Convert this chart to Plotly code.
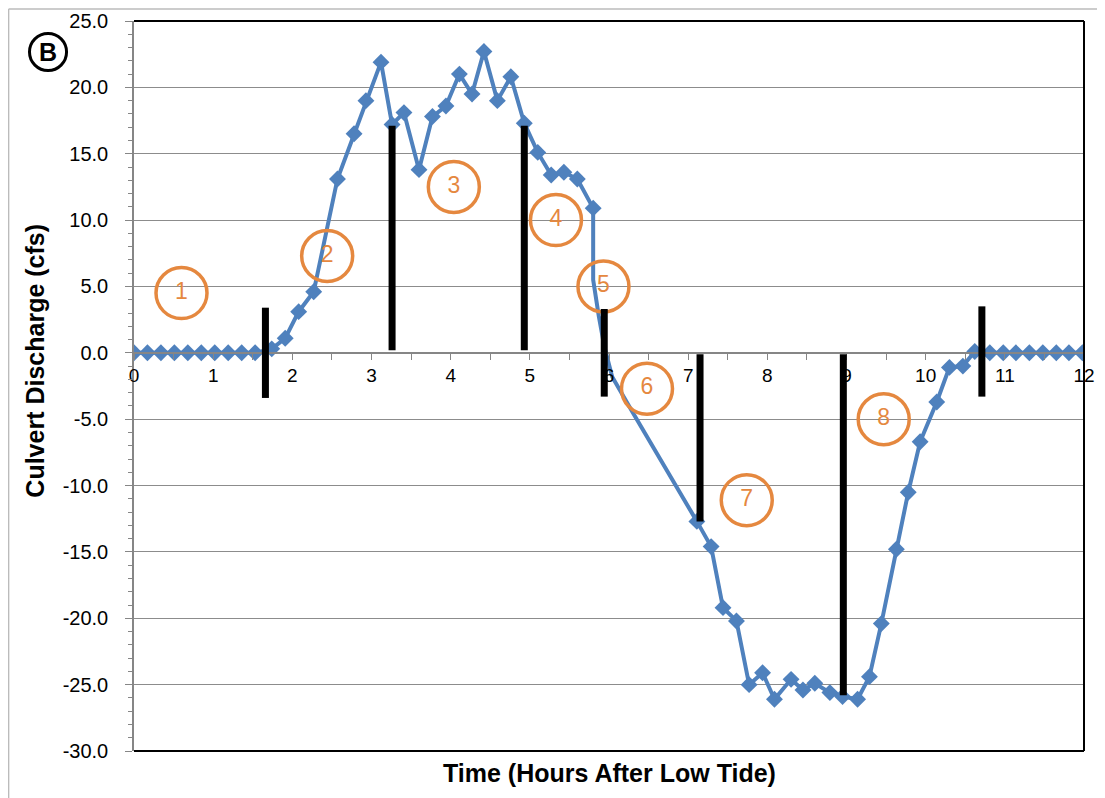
import plotly.graph_objects as go

# ---- data ----
rise_time = [0.00, 0.17, 0.34, 0.51, 0.68, 0.85, 1.02, 1.19, 1.36, 1.53,
             1.74, 1.91, 2.08, 2.27, 2.57, 2.78, 2.93, 3.12, 3.26, 3.41,
             3.60, 3.77, 3.94, 4.11, 4.27, 4.42, 4.59, 4.76, 4.93, 5.10,
             5.27, 5.43, 5.60, 5.80]
rise_cfs = [0.0, 0.0, 0.0, 0.0, 0.0, 0.0, 0.0, 0.0, 0.0, 0.0,
            0.3, 1.1, 3.1, 4.6, 13.1, 16.5, 19.0, 21.9, 17.2, 18.1,
            13.8, 17.8, 18.6, 21.0, 19.5, 22.7, 19.0, 20.8, 17.3, 15.1,
            13.4, 13.6, 13.1, 10.9]

fall_time = [7.11, 7.29, 7.44, 7.61, 7.77, 7.94, 8.09, 8.30, 8.45, 8.60,
             8.79, 8.95, 9.14, 9.29, 9.44, 9.63, 9.78, 9.93, 10.14, 10.30,
             10.47, 10.62, 10.81, 10.98, 11.14, 11.31, 11.48, 11.65, 11.81, 11.98]
fall_cfs = [-12.7, -14.6, -19.2, -20.2, -25.0, -24.1, -26.1, -24.6, -25.4, -24.9,
            -25.6, -25.9, -26.1, -24.4, -20.4, -14.8, -10.5, -6.7, -3.7, -1.1,
            -1.0, 0.1, 0.0, 0.0, 0.0, 0.0, 0.0, 0.0, 0.0, 0.0]

# unmarked connecting segment (reversal)
link_time = [5.80, 5.80, 5.87, 5.94, 6.04, 6.30, 7.11]
link_cfs = [10.9, 5.5, 2.8, 0.5, -1.8, -4.5, -12.7]

# black phase-divider bars
bar_time = [1.66, 3.26, 4.93, 5.94, 7.15, 8.96, 10.71]
bar_top = [3.4, 17.1, 17.1, 3.3, -0.1, -0.1, 3.5]
bar_bottom = [-3.4, 0.2, 0.2, -3.3, -12.7, -25.8, -3.3]

# orange circled phase numbers
phase_text = ["1", "2", "3", "4", "5", "6", "7", "8"]
phase_time = [0.60, 2.44, 4.04, 5.33, 5.93, 6.48, 7.74, 9.47]
phase_cfs = [4.5, 7.3, 12.5, 10.0, 5.0, -2.7, -11.1, -5.0]

x_ticks = list(range(0, 13))
y_ticks = [25, 20, 15, 10, 5, 0, -5, -10, -15, -20, -25, -30]

BLUE = "#4F81BD"
ORANGE = "#E5883F"
FONT = "Liberation Sans, Arial, sans-serif"

fig = go.Figure()

fig.add_trace(go.Scatter(
    x=link_time, y=link_cfs, mode="lines",
    line=dict(color=BLUE, width=4), hoverinfo="skip", showlegend=False))

fig.add_trace(go.Scatter(
    x=rise_time + [None] + fall_time,
    y=rise_cfs + [None] + fall_cfs,
    mode="lines+markers", connectgaps=False,
    line=dict(color=BLUE, width=4),
    marker=dict(symbol="diamond", size=13, color=BLUE),
    showlegend=False))

fig.add_trace(go.Scatter(
    x=phase_time, y=phase_cfs, mode="markers+text",
    text=phase_text, textposition="middle center",
    textfont=dict(family=FONT, size=23, color=ORANGE),
    marker=dict(symbol="circle-open", size=51,
                color=ORANGE, line=dict(color=ORANGE, width=3.5)),
    hoverinfo="skip", showlegend=False))

shapes = []
for t, top, bot in zip(bar_time, bar_top, bar_bottom):
    shapes.append(dict(type="line", xref="x", yref="y", x0=t, x1=t, y0=bot, y1=top,
                       line=dict(color="black", width=7), layer="above"))

# plot-area frame (top, right, bottom)
shapes.append(dict(type="line", xref="paper", yref="paper", x0=0, x1=1, y0=1, y1=1,
                   line=dict(color="black", width=2)))
shapes.append(dict(type="line", xref="paper", yref="paper", x0=1, x1=1, y0=0, y1=1,
                   line=dict(color="black", width=2)))
shapes.append(dict(type="line", xref="paper", yref="paper", x0=0, x1=1, y0=0, y1=0,
                   line=dict(color="black", width=2)))
# outer chart border
shapes.append(dict(type="line", xref="paper", yref="paper", x0=-0.132, x1=1.03, y0=1.0165, y1=1.0165,
                   line=dict(color="#BBBBBB", width=1.5)))
shapes.append(dict(type="line", xref="paper", yref="paper", x0=-0.132, x1=-0.132, y0=-0.07, y1=1.0165,
                   line=dict(color="#BBBBBB", width=1.5)))
# circled "B"
shapes.append(dict(type="circle", xref="paper", yref="paper",
                   x0=-0.0905 - 0.0195, x1=-0.0905 + 0.0195,
                   y0=0.9575 - 0.0254, y1=0.9575 + 0.0254,
                   line=dict(color="black", width=3)))

fig.update_layout(
    width=1097, height=790,
    margin=dict(l=126, r=21, t=13, b=47, autoexpand=False),
    paper_bgcolor="white", plot_bgcolor="white",
    font=dict(family=FONT, size=19, color="black"),
    shapes=shapes,
    xaxis=dict(
        range=[0, 12], tickvals=x_ticks, ticktext=[str(v) for v in x_ticks],
        anchor="free", position=30 / 55, showgrid=False, zeroline=False,
        showline=True, linecolor="#868686", linewidth=1.5,
        ticks="outside", ticklen=6, tickcolor="#868686",
        minor=dict(dtick=0.5, ticks="outside", ticklen=6, tickcolor="#868686"),
        tickfont=dict(size=19), automargin=False),
    yaxis=dict(
        range=[-30, 25], tickvals=y_ticks, ticktext=[f"{v:.1f}" for v in y_ticks],
        showgrid=True, gridcolor="#8C8C8C", gridwidth=1, zeroline=False,
        showline=True, linecolor="#868686", linewidth=1.5,
        ticks="outside", ticklen=7, tickcolor="#868686",
        minor=dict(dtick=1, ticks="outside", ticklen=4, tickcolor="#868686", showgrid=False),
        tickfont=dict(size=20), ticklabelstandoff=13, automargin=False),
    annotations=[
        dict(text="<b>Time (Hours After Low Tide)</b>", xref="paper", yref="paper",
             x=0.5, y=-0.030, showarrow=False, font=dict(size=25),
             xanchor="center", yanchor="middle"),
        dict(text="<b>Culvert Discharge (cfs)</b>", xref="paper", yref="paper",
             x=-0.104, y=0.535, showarrow=False, textangle=-90, font=dict(size=25),
             xanchor="center", yanchor="middle"),
        dict(text="<b>B</b>", xref="paper", yref="paper",
             x=-0.0905, y=0.9575, showarrow=False, font=dict(size=25),
             xanchor="center", yanchor="middle"),
    ],
)

fig.write_html("out.html")
